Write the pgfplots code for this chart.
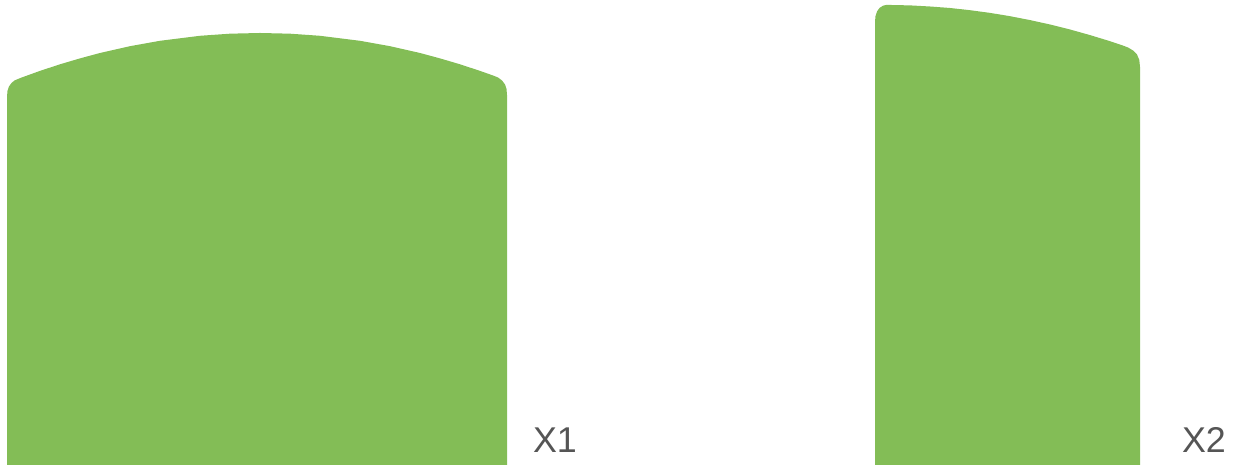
\documentclass[border=0pt]{standalone}
\usepackage{pgfplots}
\pgfplotsset{compat=1.18}
\usepackage{fontspec}
\setmainfont{Liberation Sans}
\definecolor{barg}{RGB}{131,189,86}
\definecolor{lblg}{RGB}{85,85,85}
\begin{document}
\begin{tikzpicture}
\begin{axis}[
  scale only axis, width=12.38cm, height=4.65cm,
  xmin=0, xmax=1238, ymin=0, ymax=465,
  hide axis, clip=false,
]
\path (rel axis cs:0,0) rectangle (rel axis cs:1,1);
\addplot[draw=none, fill=barg] coordinates {
 (7,0) (7,368) (7.5,374) (9,378.5) (11.5,382) (14.5,384.5) (18,386) (22,387.6)
 (40,394.1) (60,400.7) (80,406.6) (100,412) (130,418.8) (160,424.2)
 (200,429.2) (230,431.3) (260,432) (290,431.3) (320,429.2) (360,424.2)
 (390,418.8) (420,412) (440,406.6) (460,400.7) (480,394.1) (493,389.5)
 (498,387.5) (502,384.5) (505,380.5) (506.5,376) (507,370) (507,0)
} -- cycle;
\addplot[draw=none, fill=barg] coordinates {
 (875,0) (875,443) (875.5,449) (877,453.5) (879.5,457) (883,459.3) (887,460.2) (891,460)
 (910,459.6) (930,458.5) (950,457) (970,454.8) (990,452.1) (1010,448.8)
 (1030,444.9) (1050,440.5) (1070,435.5) (1090,429.9) (1110,423.8) (1122,419.8)
 (1128,417.5) (1133,414.5) (1137,410.5) (1139.3,405) (1140,398) (1140,0)
} -- cycle;
\node[text=lblg, font=\fontsize{10.2}{12}\selectfont, inner sep=0pt] at (axis cs:555,25) {X1};
\node[text=lblg, font=\fontsize{10.2}{12}\selectfont, inner sep=0pt] at (axis cs:1204,25) {X2};
\end{axis}
\end{tikzpicture}
\end{document}
